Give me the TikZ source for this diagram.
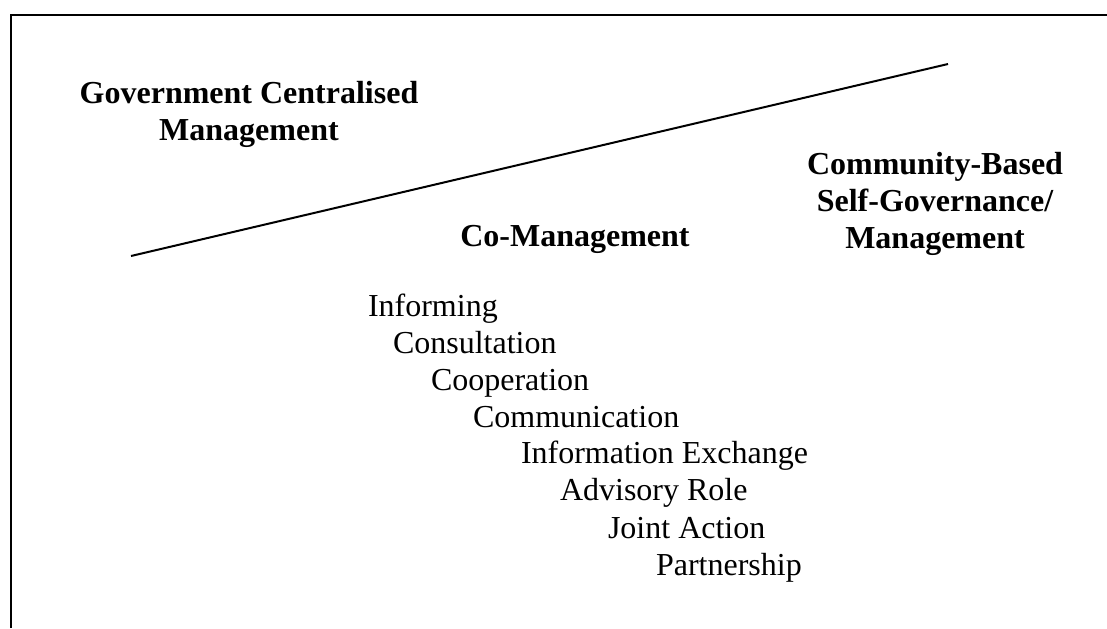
\documentclass[tikz,border=0pt]{standalone}
\usepackage{fontspec}
\setmainfont{Liberation Serif}

\tikzset{
  heading/.style={font=\fontsize{12}{13.875}\selectfont\bfseries, align=center, anchor=base, inner sep=0pt},
  stage/.style={font=\fontsize{12}{13.875}\selectfont, anchor=base west, inner sep=0pt}
}

\begin{document}
\begin{tikzpicture}[x=0.375pt, y=-0.375pt, line width=0.75pt]
\useasboundingbox (0,0) rectangle (1107,628);

% frame (top and left only)
\draw (11,628) -- (11,15) -- (1107,15);

% base anchor sits on the last line
\node[heading] (GCM) at (249,140) {Government Centralised\\Management};
\node[heading] (CBM) at (935,248) {Community-Based\\Self-Governance/\\Management};
\node[heading] (CM)  at (575,246) {Co-Management};

\node[stage] (S1) at (367,316) {Informing};
\node[stage] (S2) at (392,353) {Consultation};
\node[stage] (S3) at (430,390) {Cooperation};
\node[stage] (S4) at (472,427) {Communication};
\node[stage] (S5) at (520,463) {Information Exchange};
\node[stage] (S6) at (559,500) {Advisory Role};
\node[stage] (S7) at (607,538) {Joint Action};
\node[stage] (S8) at (655,575) {Partnership};

\coordinate (low)  at (131,256);
\coordinate (high) at (948,64);
\draw (low) -- (high);
\end{tikzpicture}
\end{document}
